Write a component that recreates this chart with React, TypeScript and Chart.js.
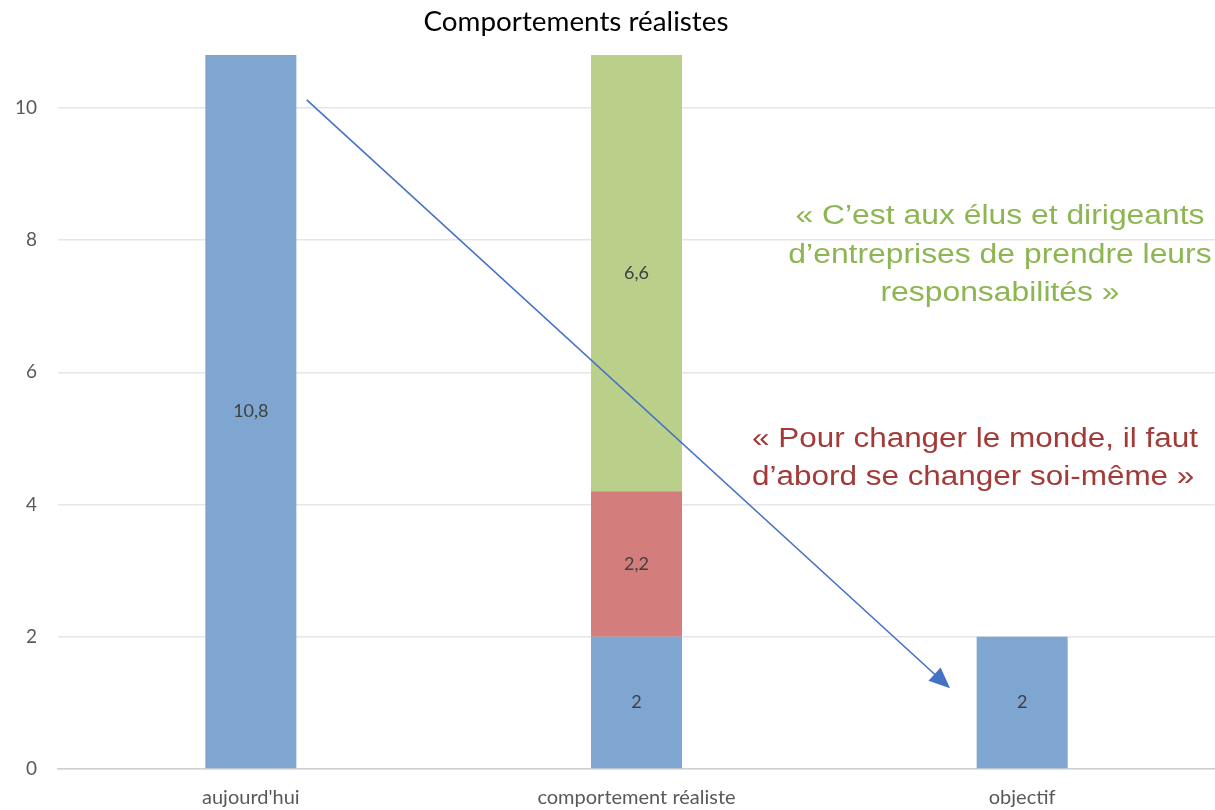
import React, { useEffect, useRef } from "react";
import { Chart, registerables } from "chart.js";

Chart.register(...registerables);

const categories = ["aujourd'hui", "comportement réaliste", "objectif"];
const blueValues = [10.8, 2, 2];
const redValues = [0, 2.2, 0];
const greenValues = [0, 6.6, 0];
const yTicks = [0, 2, 4, 6, 8, 10];
const chartTitle = "Comportements réalistes";
const greenQuote = [
  "« C’est aux élus et dirigeants",
  "d’entreprises de prendre leurs",
  "responsabilités »",
];
const redQuote = ["« Pour changer le monde, il faut", "d’abord se changer soi-même »"];
// arrow endpoints in data coordinates (category index, value)
const arrowFrom = { x: 0.145, y: 10.12 };
const arrowTo = { x: 1.813, y: 1.22 };

const labelFont = "Lato, 'Open Sans', sans-serif";

const dataLabelPlugin = {
  id: "dataLabels",
  afterDatasetsDraw(chart: any) {
    const ctx = chart.ctx;
    ctx.save();
    ctx.font = `18px ${labelFont}`;
    ctx.fillStyle = "#404040";
    ctx.textAlign = "center";
    ctx.textBaseline = "middle";
    chart.data.datasets.forEach((ds: any, di: number) => {
      const meta = chart.getDatasetMeta(di);
      meta.data.forEach((bar: any, i: number) => {
        const v = ds.data[i];
        if (!v) return;
        const cy = (bar.y + bar.base) / 2;
        ctx.fillText(String(v).replace(".", ","), bar.x, cy);
      });
    });
    ctx.restore();
  },
};

const drawStretched = (ctx: any, text: string, x: number, y: number, sx: number) => {
  ctx.save();
  ctx.translate(x, y);
  ctx.scale(sx, 1);
  ctx.fillText(text, 0, 0);
  ctx.restore();
};

const annotationPlugin = {
  id: "annotations",
  afterDraw(chart: any) {
    const ctx = chart.ctx;
    const xs = chart.scales.x;
    const ys = chart.scales.y;
    ctx.save();
    // title
    ctx.font = `27px ${labelFont}`;
    ctx.fillStyle = "#000000";
    ctx.textAlign = "center";
    ctx.textBaseline = "middle";
    drawStretched(ctx, chartTitle, 576, 22, 1.03);
    // quotes
    ctx.font = `27px 'Liberation Sans', Arial, sans-serif`;
    ctx.fillStyle = "#8DB652";
    ctx.textAlign = "center";
    greenQuote.forEach((line, i) => {
      drawStretched(ctx, line, 1000, 217 + i * 38.5, 1.18);
    });
    ctx.fillStyle = "#A23B38";
    ctx.textAlign = "left";
    redQuote.forEach((line, i) => {
      drawStretched(ctx, line, 752, 440 + i * 38, 1.165);
    });
    // arrow
    const x1 = xs.getPixelForValue(arrowFrom.x);
    const y1 = ys.getPixelForValue(arrowFrom.y);
    const x2 = xs.getPixelForValue(arrowTo.x);
    const y2 = ys.getPixelForValue(arrowTo.y);
    const ang = Math.atan2(y2 - y1, x2 - x1);
    const headLen = 21;
    const headW = 9;
    ctx.strokeStyle = "#4472C4";
    ctx.fillStyle = "#4472C4";
    ctx.lineWidth = 1.6;
    ctx.beginPath();
    ctx.moveTo(x1, y1);
    ctx.lineTo(x2 - Math.cos(ang) * headLen * 0.8, y2 - Math.sin(ang) * headLen * 0.8);
    ctx.stroke();
    ctx.beginPath();
    ctx.moveTo(x2, y2);
    const bx = x2 - Math.cos(ang) * headLen;
    const by = y2 - Math.sin(ang) * headLen;
    ctx.lineTo(bx + Math.sin(ang) * headW, by - Math.cos(ang) * headW);
    ctx.lineTo(bx - Math.sin(ang) * headW, by + Math.cos(ang) * headW);
    ctx.closePath();
    ctx.fill();
    ctx.restore();
  },
};

export default function App() {
  const ref = useRef<HTMLCanvasElement>(null);
  useEffect(() => {
    if (!ref.current) return;
    const chart = new Chart(ref.current, {
      type: "bar",
      data: {
        labels: categories,
        datasets: [
          { label: "base", data: blueValues, backgroundColor: "#7FA6D0" },
          { label: "individuel", data: redValues, backgroundColor: "#D37E7C" },
          { label: "collectif", data: greenValues, backgroundColor: "#B9CF8A" },
        ],
      },
      options: {
        animation: false,
        responsive: true,
        maintainAspectRatio: false,
        layout: { padding: { left: 0, right: 0, top: 55, bottom: 0 } },
        datasets: { bar: { categoryPercentage: 0.236, barPercentage: 1 } },
        plugins: {
          legend: { display: false },
          tooltip: { enabled: false },
          title: { display: false },
        },
        scales: {
          x: {
            stacked: true,
            grid: { display: false, drawTicks: false },
            border: { display: true, color: "#D0D0D0", width: 1.5 },
            ticks: { color: "#595959", font: { family: labelFont, size: 20 }, padding: 17 },
            afterFit: (s: any) => {
              s.height = 41;
            },
          },
          y: {
            stacked: true,
            min: 0,
            max: 10.8,
            afterBuildTicks: (s: any) => {
              s.ticks = yTicks.map((v) => ({ value: v }));
            },
            grid: { color: "#E6E6E6", drawTicks: false, lineWidth: 1.5 },
            border: { display: false },
            ticks: { color: "#595959", font: { family: labelFont, size: 19 }, padding: 21 },
            afterFit: (s: any) => {
              s.width = 58;
            },
          },
        },
      },
      plugins: [dataLabelPlugin, annotationPlugin],
    });
    return () => chart.destroy();
  }, []);
  return (
    <div style={{ position: "fixed", left: 0, top: 0, width: 1215, height: 810, background: "#fff" }}>
      <canvas ref={ref} />
    </div>
  );
}
